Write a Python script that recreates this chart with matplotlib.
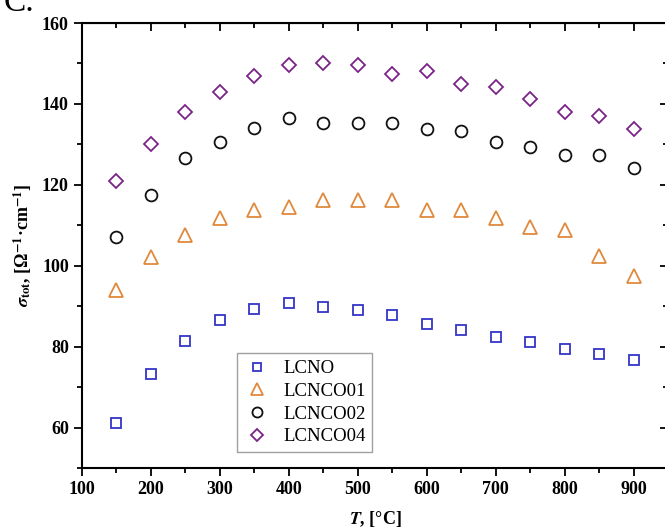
import matplotlib.pyplot as plt
from matplotlib.ticker import MultipleLocator

# Data
temps = [150, 200, 250, 300, 350, 400, 450, 500, 550, 600, 650, 700, 750, 800, 850, 900]
lcno = [61.2, 73.2, 81.4, 86.5, 89.4, 90.7, 89.8, 89.1, 87.7, 85.6, 84.1, 82.3, 81.2, 79.4, 78.1, 76.8]
lcnco01 = [94.0, 102.2, 107.5, 111.9, 113.7, 114.4, 116.2, 116.2, 116.2, 113.7, 113.7, 111.9, 109.5, 108.9, 102.3, 97.4]
lcnco02 = [107.2, 117.5, 126.7, 130.6, 134.0, 136.5, 135.2, 135.2, 135.2, 133.9, 133.3, 130.6, 129.3, 127.4, 127.4, 124.1]
lcnco04 = [120.9, 130.2, 138.1, 142.9, 146.8, 149.5, 150.1, 149.5, 147.5, 148.1, 144.8, 144.1, 141.3, 138.1, 137.1, 133.8]

series = [
    ('LCNO', lcno, 's', '#3535c8', 7.5),
    ('LCNCO01', lcnco01, '^', '#e0893c', 9.5),
    ('LCNCO02', lcnco02, 'o', '#111111', 8.5),
    ('LCNCO04', lcnco04, 'D', '#7b2487', 7.5),
]

plt.rcParams['font.family'] = ['Liberation Serif', 'DejaVu Serif']
plt.rcParams['mathtext.fontset'] = 'stix'

fig = plt.figure(figsize=(6.65, 5.3), dpi=100)
ax = fig.add_axes([82 / 665, 62 / 530, 586 / 665, 445 / 530])

for name, vals, mk, col, ms in series:
    ax.plot(temps, vals, linestyle='none', marker=mk, markersize=ms,
            markerfacecolor='none', markeredgecolor=col, markeredgewidth=1.3,
            label=name)

ax.set_xlim(100, 950)
ax.set_ylim(50, 160)
ax.xaxis.set_major_locator(MultipleLocator(100))
ax.xaxis.set_minor_locator(MultipleLocator(50))
ax.yaxis.set_major_locator(MultipleLocator(20))
ax.yaxis.set_minor_locator(MultipleLocator(10))

ax.tick_params(which='both', direction='out', top=False, right=False, width=1.3)
ax.tick_params(which='major', length=6, labelsize=13)
ax.tick_params(which='minor', length=3.5)
ax.set_xticks([100, 200, 300, 400, 500, 600, 700, 800, 900])
for lab in ax.get_xticklabels() + ax.get_yticklabels():
    lab.set_fontweight('bold')

# inward ticks on top and right
sec_x = ax.secondary_xaxis('top')
sec_x.xaxis.set_major_locator(MultipleLocator(100))
sec_x.xaxis.set_minor_locator(MultipleLocator(50))
sec_x.tick_params(which='both', direction='in', labeltop=False, width=1.3)
sec_x.tick_params(which='major', length=6)
sec_x.tick_params(which='minor', length=3.5)
sec_y = ax.secondary_yaxis('right')
sec_y.yaxis.set_major_locator(MultipleLocator(20))
sec_y.yaxis.set_minor_locator(MultipleLocator(10))
sec_y.tick_params(which='both', direction='in', labelright=False, width=1.3)
sec_y.tick_params(which='major', length=6)
sec_y.tick_params(which='minor', length=3.5)

for sp in ax.spines.values():
    sp.set_linewidth(1.5)

ax.set_xlabel(r'$\boldsymbol{T}$, [°C]', fontsize=13, fontweight='bold', labelpad=8)
ax.set_ylabel(r'$\boldsymbol{\sigma}_{\mathbf{tot}}$, [Ω$^{\mathbf{-1}}$·cm$^{\mathbf{-1}}$]',
              fontsize=13, fontweight='bold', labelpad=6)

leg = ax.legend(loc='lower left', bbox_to_anchor=(0.249, 0.015), fontsize=13.5,
                frameon=True, fancybox=False, edgecolor='#888888',
                handletextpad=0.7, borderpad=0.35, labelspacing=0.3,
                handlelength=1.4, markerscale=0.85)
leg.get_frame().set_linewidth(1.0)

fig.text(0.005, 0.995, 'C.', fontsize=24, va='center', ha='left')

fig.savefig('out.png', dpi=100, facecolor='white')
